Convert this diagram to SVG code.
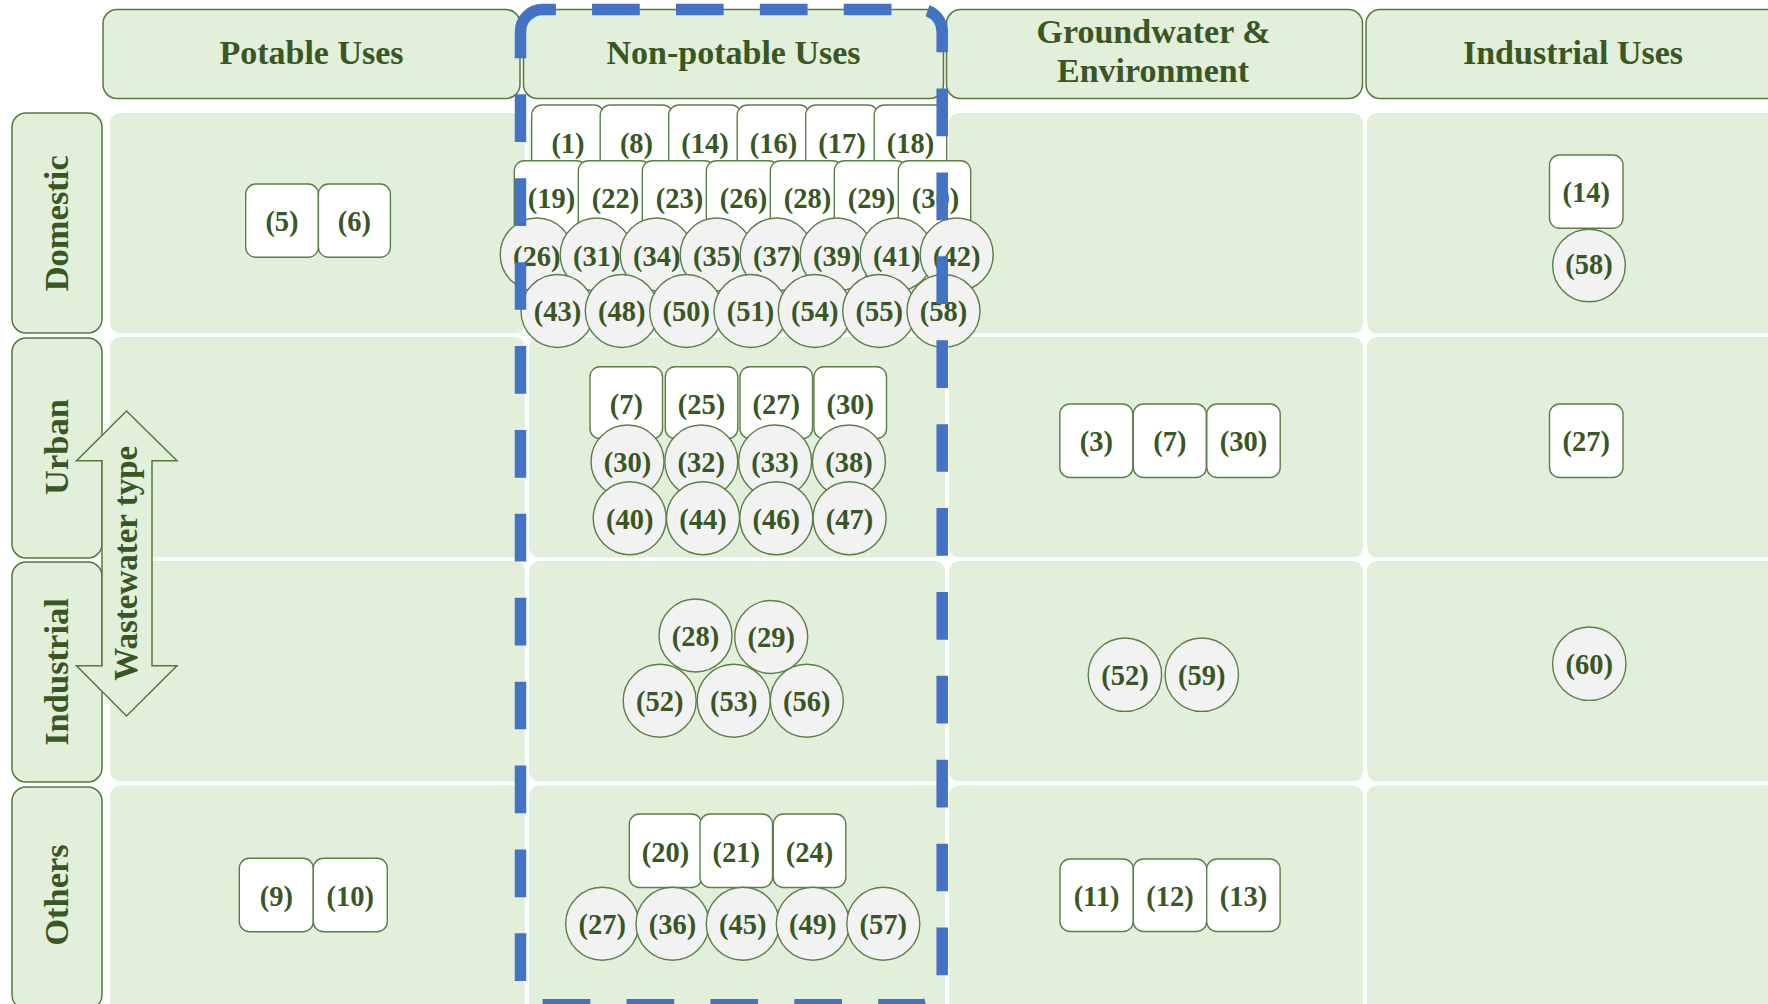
<svg xmlns="http://www.w3.org/2000/svg" width="1768" height="1004" viewBox="0 0 1768 1004">
<style>
.bg{fill:#ffffff}
.cell{fill:#e2efda}
.hdr{fill:#e2efda;stroke:#557a3d;stroke-width:1.5}
.box{fill:#ffffff;stroke:#5b7f45;stroke-width:1.4}
.circ{fill:#f2f2f2;stroke:#5b7f45;stroke-width:1.4}
.t{font-family:"Liberation Serif","Times New Roman",serif;font-weight:bold;fill:#385723;text-anchor:middle}
.num{font-size:28.5px}
.h{font-size:34px}
.rl{font-size:34.5px}
.ww{font-size:33px}
.hl{fill:none;stroke:#4472c4;stroke-width:11.5;stroke-dasharray:47.7 36.2}
</style>
<rect class="bg" x="0" y="0" width="1768" height="1004"/>

<g id="cells">
<rect class="cell" x="110" y="113" width="415" height="220.5" rx="10"/>
<rect class="cell" x="529" y="113" width="416" height="220.5" rx="10"/>
<rect class="cell" x="949" y="113" width="414" height="220.5" rx="10"/>
<rect class="cell" x="1367" y="113" width="430" height="220.5" rx="10"/>
<rect class="cell" x="110" y="337" width="415" height="220.5" rx="10"/>
<rect class="cell" x="529" y="337" width="416" height="220.5" rx="10"/>
<rect class="cell" x="949" y="337" width="414" height="220.5" rx="10"/>
<rect class="cell" x="1367" y="337" width="430" height="220.5" rx="10"/>
<rect class="cell" x="110" y="561" width="415" height="220.5" rx="10"/>
<rect class="cell" x="529" y="561" width="416" height="220.5" rx="10"/>
<rect class="cell" x="949" y="561" width="414" height="220.5" rx="10"/>
<rect class="cell" x="1367" y="561" width="430" height="220.5" rx="10"/>
<rect class="cell" x="110" y="785.5" width="415" height="230" rx="10"/>
<rect class="cell" x="529" y="785.5" width="416" height="230" rx="10"/>
<rect class="cell" x="949" y="785.5" width="414" height="230" rx="10"/>
<rect class="cell" x="1367" y="785.5" width="430" height="230" rx="10"/>
</g>

<g id="hdr-potable"><rect class="hdr" x="103" y="9.5" width="417" height="89" rx="14"/><text class="t h" x="311.5" y="64.3">Potable Uses</text></g>
<g id="hdr-nonpotable"><rect class="hdr" x="523.5" y="9.5" width="420" height="89" rx="14"/><text class="t h" x="733.5" y="64.3">Non-potable Uses</text></g>
<g id="hdr-groundwater"><rect class="hdr" x="946.5" y="9.5" width="416" height="89" rx="14"/><text class="t h" x="1153.5" y="42.7">Groundwater &amp;</text><text class="t h" x="1153" y="81.7">Environment</text></g>
<g id="hdr-industrial"><rect class="hdr" x="1366" y="9.5" width="417" height="89" rx="14"/><text class="t h" x="1573" y="63.8">Industrial Uses</text></g>

<g id="row-domestic"><rect class="hdr" x="12" y="113" width="90" height="220" rx="14"/><text class="t rl" transform="translate(68,223.3) rotate(-90)">Domestic</text></g>
<g id="row-urban"><rect class="hdr" x="12" y="338" width="90" height="220" rx="14"/><text class="t rl" transform="translate(68,447) rotate(-90)">Urban</text></g>
<g id="row-industrial"><rect class="hdr" x="12" y="562" width="90" height="220" rx="14"/><text class="t rl" transform="translate(68,672) rotate(-90)">Industrial</text></g>
<g id="row-others"><rect class="hdr" x="12" y="787" width="90" height="222" rx="14"/><text class="t rl" transform="translate(68,895) rotate(-90)">Others</text></g>

<g id="connectors">
<g id="wastewater-type-arrow"><path class="hdr" stroke-width="1.3" d="M126.5,411 L177,460.7 L152,460.7 L152,665.7 L177,665.7 L126.5,716 L76.5,665.7 L102,665.7 L102,460.7 L76.5,460.7 Z"/><text class="t ww" transform="translate(136.5,563.3) rotate(-90)">Wastewater type</text></g>
</g>

<!-- Potable -->
<g id="p-dom-5"><rect class="box" x="245.7" y="184" width="72.7" height="73.3" rx="10"/><text class="t num" x="282" y="231.2">(5)</text></g>
<g id="p-dom-6"><rect class="box" x="318.4" y="184" width="72" height="73.3" rx="10"/><text class="t num" x="354.4" y="231.2">(6)</text></g>
<g id="p-oth-9"><rect class="box" x="239.3" y="858.3" width="74" height="73.4" rx="10"/><text class="t num" x="276.3" y="905.5">(9)</text></g>
<g id="p-oth-10"><rect class="box" x="313.3" y="858.3" width="74" height="73.4" rx="10"/><text class="t num" x="350.3" y="905.5">(10)</text></g>

<!-- Non-potable domestic row 1 -->
<g id="np-dom-1"><rect class="box" x="531.7" y="105" width="72.5" height="73" rx="10"/><text class="t num" x="568" y="152.5">(1)</text></g>
<g id="np-dom-8"><rect class="box" x="600.2" y="105" width="72.5" height="73" rx="10"/><text class="t num" x="636.5" y="152.5">(8)</text></g>
<g id="np-dom-14"><rect class="box" x="668.7" y="105" width="72.5" height="73" rx="10"/><text class="t num" x="705" y="152.5">(14)</text></g>
<g id="np-dom-16"><rect class="box" x="737.2" y="105" width="72.5" height="73" rx="10"/><text class="t num" x="773.5" y="152.5">(16)</text></g>
<g id="np-dom-17"><rect class="box" x="805.7" y="105" width="72.5" height="73" rx="10"/><text class="t num" x="842" y="152.5">(17)</text></g>
<g id="np-dom-18"><rect class="box" x="874.2" y="105" width="72.5" height="73" rx="10"/><text class="t num" x="910.5" y="152.5">(18)</text></g>
<!-- row 2 -->
<g id="np-dom-19"><rect class="box" x="514.3" y="160.7" width="72.4" height="73" rx="10"/><text class="t num" x="551.5" y="208">(19)</text></g>
<g id="np-dom-22"><rect class="box" x="578.3" y="160.7" width="72.4" height="73" rx="10"/><text class="t num" x="615.5" y="208">(22)</text></g>
<g id="np-dom-23"><rect class="box" x="642.3" y="160.7" width="72.4" height="73" rx="10"/><text class="t num" x="679.5" y="208">(23)</text></g>
<g id="np-dom-26a"><rect class="box" x="706.3" y="160.7" width="72.4" height="73" rx="10"/><text class="t num" x="743.5" y="208">(26)</text></g>
<g id="np-dom-28"><rect class="box" x="770.3" y="160.7" width="72.4" height="73" rx="10"/><text class="t num" x="807.5" y="208">(28)</text></g>
<g id="np-dom-29"><rect class="box" x="834.3" y="160.7" width="72.4" height="73" rx="10"/><text class="t num" x="871.5" y="208">(29)</text></g>
<g id="np-dom-30"><rect class="box" x="898.3" y="160.7" width="72.4" height="73" rx="10"/><text class="t num" x="935.5" y="208">(30)</text></g>
<!-- row 3 circles -->
<g id="np-dom-26b"><circle class="circ" cx="536.7" cy="254.5" r="36.5"/><text class="t num" x="536.7" y="266">(26)</text></g>
<g id="np-dom-31"><circle class="circ" cx="596.7" cy="254.5" r="36.5"/><text class="t num" x="596.7" y="266">(31)</text></g>
<g id="np-dom-34"><circle class="circ" cx="656.7" cy="254.5" r="36.5"/><text class="t num" x="656.7" y="266">(34)</text></g>
<g id="np-dom-35"><circle class="circ" cx="716.7" cy="254.5" r="36.5"/><text class="t num" x="716.7" y="266">(35)</text></g>
<g id="np-dom-37"><circle class="circ" cx="776.7" cy="254.5" r="36.5"/><text class="t num" x="776.7" y="266">(37)</text></g>
<g id="np-dom-39"><circle class="circ" cx="836.7" cy="254.5" r="36.5"/><text class="t num" x="836.7" y="266">(39)</text></g>
<g id="np-dom-41"><circle class="circ" cx="896.7" cy="254.5" r="36.5"/><text class="t num" x="896.7" y="266">(41)</text></g>
<g id="np-dom-42"><circle class="circ" cx="956.7" cy="254.5" r="36.5"/><text class="t num" x="956.7" y="266">(42)</text></g>
<!-- row 4 circles -->
<g id="np-dom-43"><circle class="circ" cx="557.5" cy="311" r="36.5"/><text class="t num" x="557.5" y="320.5">(43)</text></g>
<g id="np-dom-48"><circle class="circ" cx="621.8" cy="311" r="36.5"/><text class="t num" x="621.8" y="320.5">(48)</text></g>
<g id="np-dom-50"><circle class="circ" cx="686.2" cy="311" r="36.5"/><text class="t num" x="686.2" y="320.5">(50)</text></g>
<g id="np-dom-51"><circle class="circ" cx="750.5" cy="311" r="36.5"/><text class="t num" x="750.5" y="320.5">(51)</text></g>
<g id="np-dom-54"><circle class="circ" cx="814.8" cy="311" r="36.5"/><text class="t num" x="814.8" y="320.5">(54)</text></g>
<g id="np-dom-55"><circle class="circ" cx="879.2" cy="311" r="36.5"/><text class="t num" x="879.2" y="320.5">(55)</text></g>
<g id="np-dom-58"><circle class="circ" cx="943.5" cy="311" r="36.5"/><text class="t num" x="943.5" y="320.5">(58)</text></g>

<!-- Non-potable urban -->
<g id="np-urb-7"><rect class="box" x="590" y="366.7" width="72.5" height="72" rx="10"/><text class="t num" x="626.3" y="414">(7)</text></g>
<g id="np-urb-25"><rect class="box" x="665.3" y="366.7" width="72.5" height="72" rx="10"/><text class="t num" x="701.6" y="414">(25)</text></g>
<g id="np-urb-27"><rect class="box" x="740" y="366.7" width="72.5" height="72" rx="10"/><text class="t num" x="776.3" y="414">(27)</text></g>
<g id="np-urb-30"><rect class="box" x="814" y="366.7" width="72.5" height="72" rx="10"/><text class="t num" x="850.3" y="414">(30)</text></g>
<g id="np-urb-30c"><circle class="circ" cx="627.5" cy="461.5" r="36.5"/><text class="t num" x="627.5" y="472">(30)</text></g>
<g id="np-urb-32"><circle class="circ" cx="701.3" cy="461.5" r="36.5"/><text class="t num" x="701.3" y="472">(32)</text></g>
<g id="np-urb-33"><circle class="circ" cx="775.1" cy="461.5" r="36.5"/><text class="t num" x="775.1" y="472">(33)</text></g>
<g id="np-urb-38"><circle class="circ" cx="848.9" cy="461.5" r="36.5"/><text class="t num" x="848.9" y="472">(38)</text></g>
<g id="np-urb-40"><circle class="circ" cx="629.7" cy="518.3" r="36.5"/><text class="t num" x="629.7" y="528.8">(40)</text></g>
<g id="np-urb-44"><circle class="circ" cx="703" cy="518.3" r="36.5"/><text class="t num" x="703" y="528.8">(44)</text></g>
<g id="np-urb-46"><circle class="circ" cx="776.3" cy="518.3" r="36.5"/><text class="t num" x="776.3" y="528.8">(46)</text></g>
<g id="np-urb-47"><circle class="circ" cx="849.6" cy="518.3" r="36.5"/><text class="t num" x="849.6" y="528.8">(47)</text></g>

<!-- Non-potable industrial -->
<g id="np-ind-28"><circle class="circ" cx="695.5" cy="635.5" r="36.5"/><text class="t num" x="695.5" y="645.5">(28)</text></g>
<g id="np-ind-29"><circle class="circ" cx="771.2" cy="637" r="36.5"/><text class="t num" x="771.2" y="647">(29)</text></g>
<g id="np-ind-52"><circle class="circ" cx="659.7" cy="700.7" r="36.5"/><text class="t num" x="659.7" y="710.7">(52)</text></g>
<g id="np-ind-53"><circle class="circ" cx="733.7" cy="700.8" r="36.5"/><text class="t num" x="733.7" y="710.8">(53)</text></g>
<g id="np-ind-56"><circle class="circ" cx="806.8" cy="700.7" r="36.5"/><text class="t num" x="806.8" y="710.7">(56)</text></g>

<!-- Non-potable others -->
<g id="np-oth-20"><rect class="box" x="629.3" y="814" width="72.5" height="73.5" rx="10"/><text class="t num" x="665.5" y="862">(20)</text></g>
<g id="np-oth-21"><rect class="box" x="700" y="814" width="72.5" height="73.5" rx="10"/><text class="t num" x="736.3" y="862">(21)</text></g>
<g id="np-oth-24"><rect class="box" x="773.3" y="814" width="72.5" height="73.5" rx="10"/><text class="t num" x="809.5" y="862">(24)</text></g>
<g id="np-oth-27"><circle class="circ" cx="602.2" cy="923.7" r="36.5"/><text class="t num" x="602.2" y="934">(27)</text></g>
<g id="np-oth-36"><circle class="circ" cx="672.5" cy="923.7" r="36.5"/><text class="t num" x="672.5" y="934">(36)</text></g>
<g id="np-oth-45"><circle class="circ" cx="742.8" cy="923.7" r="36.5"/><text class="t num" x="742.8" y="934">(45)</text></g>
<g id="np-oth-49"><circle class="circ" cx="812.8" cy="923.7" r="36.5"/><text class="t num" x="812.8" y="934">(49)</text></g>
<g id="np-oth-57"><circle class="circ" cx="883.3" cy="923.7" r="36.5"/><text class="t num" x="883.3" y="934">(57)</text></g>

<!-- Groundwater -->
<g id="gw-urb-3"><rect class="box" x="1059.8" y="404" width="73" height="73.5" rx="10"/><text class="t num" x="1096.3" y="451.2">(3)</text></g>
<g id="gw-urb-7"><rect class="box" x="1133.3" y="404" width="73" height="73.5" rx="10"/><text class="t num" x="1169.8" y="451.2">(7)</text></g>
<g id="gw-urb-30"><rect class="box" x="1206.8" y="404" width="73.4" height="73.5" rx="10"/><text class="t num" x="1243.5" y="451.2">(30)</text></g>
<g id="gw-ind-52"><circle class="circ" cx="1124.9" cy="674.7" r="36.7"/><text class="t num" x="1124.9" y="684.7">(52)</text></g>
<g id="gw-ind-59"><circle class="circ" cx="1201.8" cy="674.7" r="36.7"/><text class="t num" x="1201.8" y="684.7">(59)</text></g>
<g id="gw-oth-11"><rect class="box" x="1060" y="859" width="73.3" height="72.5" rx="10"/><text class="t num" x="1096.6" y="905.5">(11)</text></g>
<g id="gw-oth-12"><rect class="box" x="1133.3" y="859" width="73.4" height="72.5" rx="10"/><text class="t num" x="1170" y="905.5">(12)</text></g>
<g id="gw-oth-13"><rect class="box" x="1206.7" y="859" width="73.4" height="72.5" rx="10"/><text class="t num" x="1243.4" y="905.5">(13)</text></g>

<!-- Industrial uses -->
<g id="iu-dom-14"><rect class="box" x="1549.5" y="155" width="73.5" height="73.3" rx="10"/><text class="t num" x="1586.2" y="202">(14)</text></g>
<g id="iu-dom-58"><circle class="circ" cx="1589" cy="265.5" r="36.3"/><text class="t num" x="1589" y="274">(58)</text></g>
<g id="iu-urb-27"><rect class="box" x="1549.5" y="404" width="73.5" height="73.5" rx="10"/><text class="t num" x="1586.2" y="451.2">(27)</text></g>
<g id="iu-ind-60"><circle class="circ" cx="1589.3" cy="663.7" r="36.7"/><text class="t num" x="1589.3" y="673.5">(60)</text></g>

<g id="nonpotable-highlight">
<path class="hl" d="M520.5,31.5 A22,22 0 0 1 542.5,9.5 L920.2,9.5 A22,22 0 0 1 942.2,31.5 L942.2,982.8 A22,22 0 0 1 920.2,1004.8 L542.5,1004.8 A22,22 0 0 1 520.5,982.8 Z"/>
</g>
</svg>
